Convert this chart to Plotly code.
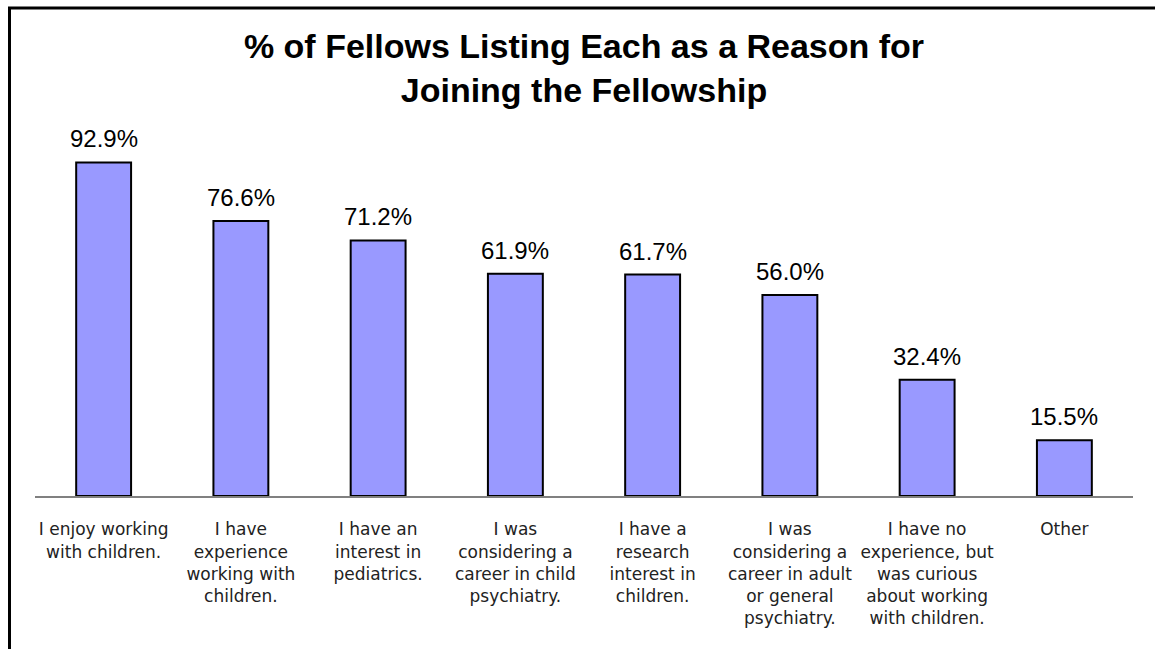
import plotly.graph_objects as go

categories = [
    "I enjoy working<br>with children.",
    "I have<br>experience<br>working with<br>children.",
    "I have an<br>interest in<br>pediatrics.",
    "I was<br>considering a<br>career in child<br>psychiatry.",
    "I have a<br>research<br>interest in<br>children.",
    "I was<br>considering a<br>career in adult<br>or general<br>psychiatry.",
    "I have no<br>experience, but<br>was curious<br>about working<br>with children.",
    "Other",
]
values = [92.9, 76.6, 71.2, 61.9, 61.7, 56.0, 32.4, 15.5]
labels = [f"{v:.1f}%" for v in values]

fig = go.Figure(go.Bar(
    x=categories,
    y=values,
    width=0.4,
    marker=dict(color="#9999FF", line=dict(color="#000000", width=2)),
    hoverinfo="skip",
))

for c, v, t in zip(categories, values, labels):
    fig.add_annotation(x=c, y=v, text=t, showarrow=False, xref="x", yref="y",
                       yanchor="bottom", yshift=8,
                       font=dict(family="Liberation Sans, Arial", size=24, color="#000000"))

fig.update_layout(
    width=1155, height=649,
    margin=dict(l=35, r=22, t=137, b=153),
    paper_bgcolor="white", plot_bgcolor="white",
    showlegend=False,
    title=dict(
        text="<b>% of Fellows Listing Each as a Reason for<br>Joining the Fellowship</b>",
        x=0.5, xref="paper", xanchor="center",
        y=1 - 58 / 649, yref="container", yanchor="middle",
        font=dict(family="Liberation Sans, Arial", size=34, color="#000000"),
    ),
    xaxis=dict(
        type="category",
        showline=True, linecolor="#808080", linewidth=2,
        ticks="", showgrid=False,
        tickfont=dict(family="DejaVu Sans", size=17, color="#222222"),
        ticklabelstandoff=17,
    ),
    yaxis=dict(range=[0, 100], visible=False, showgrid=False),
)

# outer frame (top and left edges visible in the reference)
fig.add_shape(type="rect", xref="paper", yref="paper",
              x0=(9.5 - 35) / 1098, x1=1.3, y0=-1.0, y1=(496 - 8) / 359,
              line=dict(color="#000000", width=3), fillcolor="rgba(0,0,0,0)", layer="above")

fig.write_html("out.html", config={"displayModeBar": False},
               post_script="document.body.style.margin='0';document.body.style.padding='0';")
